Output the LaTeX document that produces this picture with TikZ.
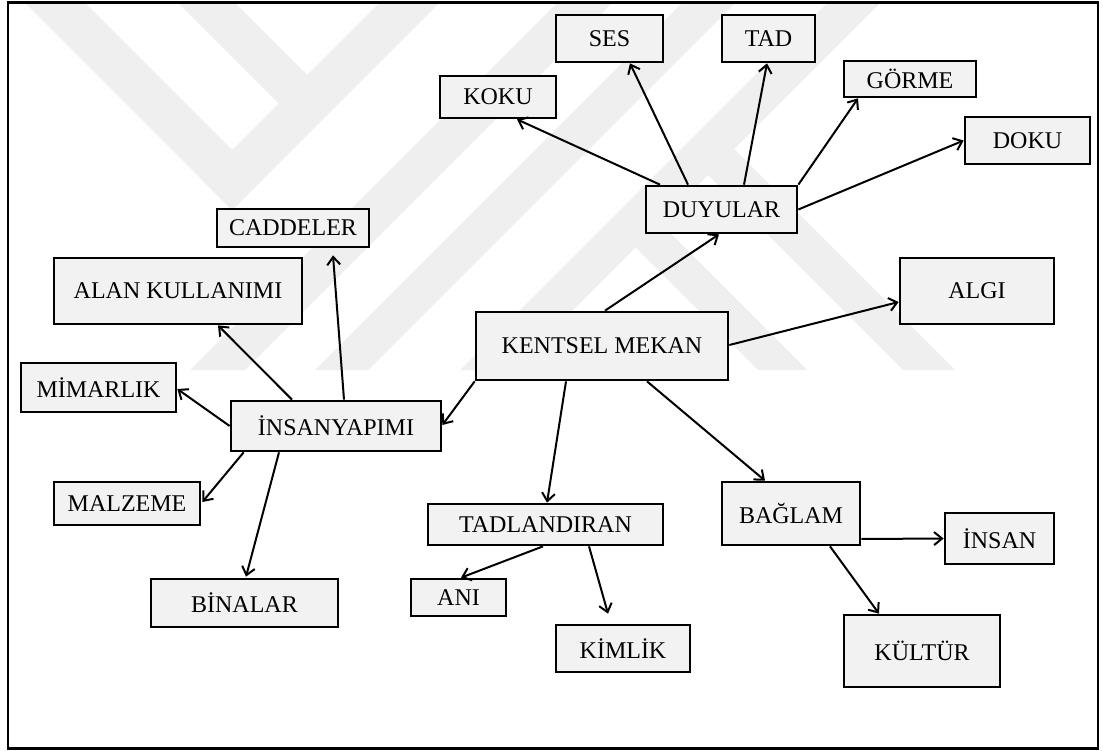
\documentclass[tikz,border=0pt]{standalone}
\usepackage{fontspec}
\setmainfont{Liberation Serif}
\usetikzlibrary{arrows.meta,calc}
\definecolor{boxfill}{RGB}{242,242,242}
\definecolor{wmark}{RGB}{239,239,239}
\begin{document}
\begin{tikzpicture}[x=1pt,y=-1pt,
  box/.style={draw=black,fill=boxfill,line width=2.7pt,inner sep=0pt,
    font=\fontsize{24}{28}\selectfont,align=center},
  conn/.style={line width=2pt,
    -{Straight Barb[length=8pt,width=13pt,line width=2pt]}}]
\useasboundingbox (0,0) rectangle (1103,751);
\fill[white] (0,0) rectangle (1103,751);

% light background emblem made of diagonal bands
\begin{scope}
  \clip (9,3) rectangle (1096,370);
  \fill[wmark] (-38,-60) -- (22,-60) -- (262,180) -- (232,210) -- cycle;
  \fill[wmark] (115,-60) -- (172,-60) -- (334,102) -- (305.5,130.5) -- cycle;
  \fill[wmark] (202,180) -- (232,210) -- (502,-60) -- (442,-60) -- cycle;
  \fill[wmark] (190,370) -- (245,370) -- (675,-60) -- (620,-60) -- cycle;
  \fill[wmark] (315,370) -- (368,370) -- (798,-60) -- (745,-60) -- cycle;
  \fill[wmark] (460,370) -- (513,370) -- (943,-60) -- (890,-60) -- cycle;
  \fill[wmark] (629,241) -- (653.5,216.5) -- (807,370) -- (758,370) -- cycle;
  \fill[wmark] (701.5,168.5) -- (727.5,142.5) -- (955,370) -- (903,370) -- cycle;
\end{scope}

% outer frame
\draw[line width=2.6pt] (8,2.5) rectangle (1098,748.5);

% nodes
\node[box,minimum width=252pt,minimum height=68pt] (kentsel) at (602,346) {KENTSEL MEKAN};
\node[box,minimum width=151pt,minimum height=47pt] (duyular) at (721.5,209.5) {DUYULAR};
\node[box,minimum width=107pt,minimum height=47pt] (ses) at (609.5,38.5) {SES};
\node[box,minimum width=93pt,minimum height=47pt] (tad) at (768.5,38.5) {TAD};
\node[box,minimum width=132pt,minimum height=36pt] (gorme) at (910,79) {GÖRME};
\node[box,minimum width=116pt,minimum height=42pt] (koku) at (498,97) {KOKU};
\node[box,minimum width=125pt,minimum height=47pt] (doku) at (1027.5,140.5) {DOKU};
\node[box,minimum width=154pt,minimum height=66pt] (algi) at (977,291) {ALGI};
\node[box,minimum width=210pt,minimum height=50pt] (insyap) at (336,426) {İNSANYAPIMI};
\node[box,minimum width=152pt,minimum height=38pt] (cadde) at (293,228) {CADDELER};
\node[box,minimum width=248pt,minimum height=66pt] (alan) at (178,291) {ALAN KULLANIMI};
\node[box,minimum width=155pt,minimum height=49pt] (mimar) at (98.5,387.5) {MİMARLIK};
\node[box,minimum width=146pt,minimum height=43pt] (malz) at (127,503.5) {MALZEME};
\node[box,minimum width=187pt,minimum height=48pt] (bina) at (244.5,603) {BİNALAR};
\node[box,minimum width=235pt,minimum height=41pt] (tadl) at (545.5,524.5) {TADLANDIRAN};
\node[box,minimum width=95pt,minimum height=37pt] (ani) at (458.5,597.5) {ANI};
\node[box,minimum width=134pt,minimum height=47pt] (kimlik) at (623,648.5) {KİMLİK};
\node[box,minimum width=138pt,minimum height=63pt] (baglam) at (791,513.5) {BAĞLAM};
\node[box,minimum width=109pt,minimum height=51pt] (insan) at (999.5,538.5) {İNSAN};
\node[box,minimum width=156pt,minimum height=72pt] (kultur) at (922,651) {KÜLTÜR};

% connectors
\draw[conn] ($(kentsel.north)+(3,0)$) -- ($(duyular.south)+(-2.5,0)$);
\draw[conn] ($(kentsel.east)+(0,-1)$) -- ($(algi.west)+(0,11)$);
\draw[conn] (kentsel.south west) -- ($(insyap.east)+(0,-1)$);
\draw[conn] ($(kentsel.south)+(-36,0)$) -- ($(tadl.north)+(1.5,0)$);
\draw[conn] ($(kentsel.south)+(45,0)$) -- ($(baglam.north)+(-26,0)$);

\draw[conn] ($(duyular.north)+(-61.5,0)$) -- ($(koku.south)+(19,0)$);
\draw[conn] ($(duyular.north)+(-33.5,0)$) -- ($(ses.south)+(20.5,0)$);
\draw[conn] ($(duyular.north)+(22.5,0)$) -- ($(tad.south)+(-1.5,0)$);
\draw[conn] (duyular.north east) -- ($(gorme.south)+(-52,0)$);
\draw[conn] (duyular.east) -- (doku.west);

\draw[conn] ($(insyap.north)+(8,0)$) -- ($(cadde.south)+(40,7)$);
\draw[conn] ($(insyap.north)+(-44,0)$) -- ($(alan.south)+(40,0)$);
\draw[conn] (insyap.west) -- ($(mimar.east)+(0,1.5)$);
\draw[conn] ($(insyap.south west)+(14,0)$) -- ($(malz.east)+(1,-1.5)$);
\draw[conn] ($(insyap.south)+(-57,0)$) -- ($(bina.north)+(1.5,-1)$);

\draw[conn] ($(tadl.south)+(-2.5,0)$) -- ($(ani.north)+(2.5,0)$);
\draw[conn] ($(tadl.south)+(43.5,0)$) -- ($(kimlik.north)+(-15,-10)$);

\draw[conn] ($(baglam.east)+(0,25.5)$) -- (insan.west);
\draw[conn] ($(baglam.south)+(39,0)$) -- ($(kultur.north)+(-43,0)$);
\end{tikzpicture}
\end{document}
